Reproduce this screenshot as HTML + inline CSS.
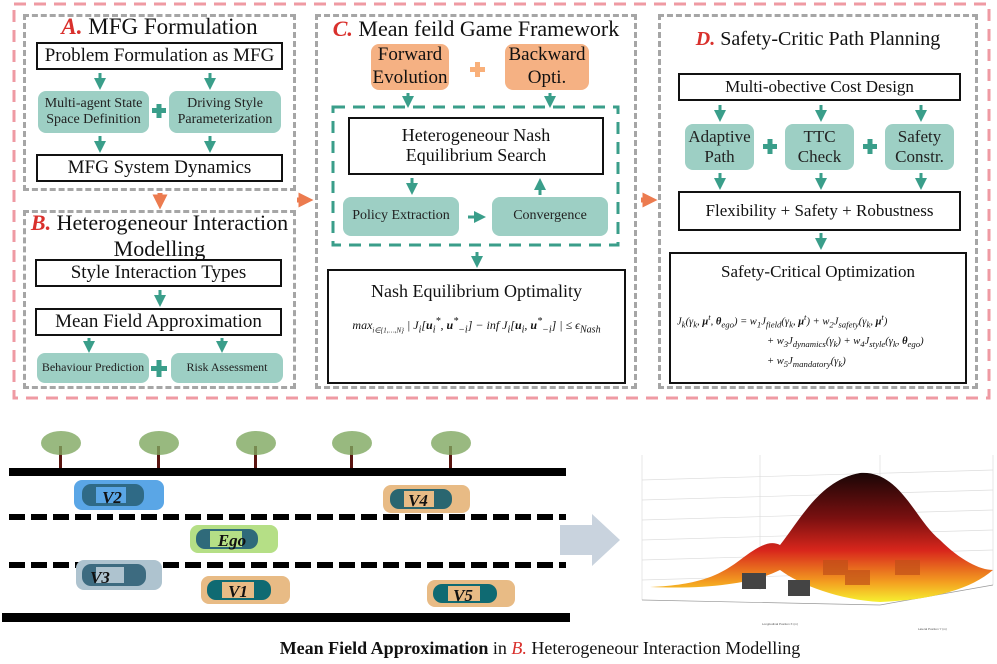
<!DOCTYPE html>
<html><head><meta charset="utf-8"><style>
*{margin:0;padding:0;box-sizing:border-box}
body{width:997px;height:664px;background:#fff;position:relative;overflow:hidden;font-family:"Liberation Serif",serif;color:#111}
.a{position:absolute}
.bx{position:absolute;border:2.5px solid #111;background:#fff;display:flex;align-items:center;justify-content:center;text-align:center;line-height:1.1}
.tl{position:absolute;background:#9dcfc4;border-radius:8px;display:flex;align-items:center;justify-content:center;text-align:center;line-height:1.15;color:#222}
.or{position:absolute;background:#f5b183;border-radius:8px;display:flex;align-items:center;justify-content:center;text-align:center;line-height:1.2;font-size:19px}
.dg{position:absolute;border:3px dashed #a6a6a6}
.r{color:#d9302c;font-style:italic;font-weight:bold}
.t{position:absolute;white-space:nowrap;text-align:center}
</style></head><body>
<svg class="a" style="left:0;top:0" width="997" height="664">
<defs>
<marker id="tg" markerWidth="4" markerHeight="4" refX="2" refY="2" orient="auto" markerUnits="strokeWidth"><path d="M0,0L4,2L0,4Z" fill="#3a9e8a"/></marker>
<marker id="og" markerWidth="3" markerHeight="3" refX="1.5" refY="1.5" orient="auto" markerUnits="strokeWidth"><path d="M0,0L3,1.5L0,3Z" fill="#ec7b4f"/></marker>
<linearGradient id="sg" x1="0" y1="0" x2="0" y2="1"><stop offset="0" stop-color="#1a0606"/><stop offset="0.35" stop-color="#7a1010"/><stop offset="0.6" stop-color="#d8261c"/><stop offset="0.85" stop-color="#f4a020"/><stop offset="1" stop-color="#f6f030"/></linearGradient>
</defs>
<rect x="14" y="4" width="975" height="394" fill="none" stroke="#ef9aa3" stroke-width="3" stroke-dasharray="12 8"/>
<rect x="333" y="107" width="285" height="138" fill="none" stroke="#3a9e8a" stroke-width="3" stroke-dasharray="12 8"/>
<g stroke="#3a9e8a" stroke-width="3" marker-end="url(#tg)">
<line x1="100" y1="73" x2="100" y2="84"/><line x1="210" y1="73" x2="210" y2="84"/>
<line x1="100" y1="136" x2="100" y2="147"/><line x1="210" y1="136" x2="210" y2="147"/>
<line x1="160" y1="290" x2="160" y2="301"/>
<line x1="89" y1="338" x2="89" y2="347"/><line x1="222" y1="338" x2="222" y2="347"/>
<line x1="408" y1="93" x2="408" y2="102"/><line x1="550" y1="93" x2="550" y2="102"/>
<line x1="412" y1="178" x2="412" y2="189"/><line x1="540" y1="195" x2="540" y2="184"/>
<line x1="468" y1="217" x2="480" y2="217"/>
<line x1="477" y1="252" x2="477" y2="262"/>
<line x1="720" y1="105" x2="720" y2="116"/><line x1="821" y1="105" x2="821" y2="116"/><line x1="921" y1="105" x2="921" y2="116"/>
<line x1="720" y1="173" x2="720" y2="184"/><line x1="821" y1="173" x2="821" y2="184"/><line x1="921" y1="173" x2="921" y2="184"/>
<line x1="821" y1="233" x2="821" y2="244"/>
</g>
<g stroke="#ec7b4f" stroke-width="5" marker-end="url(#og)">
<line x1="160" y1="193" x2="160" y2="202"/><line x1="297" y1="200" x2="306" y2="200"/><line x1="641" y1="200" x2="650" y2="200"/>
</g>
<g fill="#3a9e8a">
<rect x="152" y="108" width="14" height="5"/><rect x="156.5" y="104" width="5" height="14"/>
<rect x="151" y="366" width="16" height="5"/><rect x="156.5" y="360" width="5" height="17"/>
<rect x="763" y="144" width="14" height="5"/><rect x="767.5" y="139" width="5" height="15"/>
<rect x="863" y="144" width="14" height="5"/><rect x="867.5" y="139" width="5" height="15"/>
</g>
<g fill="#f9b07a"><rect x="470" y="67" width="15" height="5"/><rect x="475" y="62" width="5" height="15"/></g>
<!-- road -->
<rect x="9" y="468" width="557" height="8" fill="#000"/>
<rect x="2" y="613" width="568" height="9" fill="#000"/>
<line x1="9" y1="517" x2="566" y2="517" stroke="#000" stroke-width="6" stroke-dasharray="16 6"/>
<line x1="9" y1="565" x2="566" y2="565" stroke="#000" stroke-width="6" stroke-dasharray="16 6"/>
<g fill="#5a1410">
<rect x="59" y="446" width="3" height="22"/><rect x="157" y="446" width="3" height="22"/><rect x="254" y="446" width="3" height="22"/><rect x="350" y="446" width="3" height="22"/><rect x="449" y="446" width="3" height="22"/>
</g>
<g fill="#7fa860" opacity="0.8">
<ellipse cx="61" cy="443" rx="20" ry="12"/><ellipse cx="159" cy="443" rx="20" ry="12"/><ellipse cx="256" cy="443" rx="20" ry="12"/><ellipse cx="352" cy="443" rx="20" ry="12"/><ellipse cx="451" cy="443" rx="20" ry="12"/>
</g>
<!-- cars -->
<g>
<rect x="74" y="480" width="90" height="30" rx="8" fill="#5aa6e6"/><rect x="82" y="484" width="62" height="22" rx="9" fill="#2f6a86"/><rect x="96" y="487" width="30" height="16" fill="#5aa6e6"/>
<rect x="383" y="485" width="87" height="28" rx="8" fill="#e8bb85"/><rect x="390" y="489" width="62" height="20" rx="9" fill="#2a6670"/><rect x="404" y="491" width="30" height="16" fill="#e8bb85"/>
<rect x="190" y="525" width="88" height="28" rx="8" fill="#b5df86"/><rect x="196" y="529" width="62" height="20" rx="9" fill="#2f6a7a"/><rect x="210" y="531" width="32" height="16" fill="#b5df86"/>
<rect x="76" y="560" width="86" height="30" rx="8" fill="#aec3cf"/><rect x="82" y="564" width="64" height="22" rx="9" fill="#3d6b80"/><rect x="96" y="567" width="28" height="16" fill="#aec3cf"/>
<rect x="201" y="576" width="89" height="28" rx="8" fill="#e8bb85"/><rect x="207" y="580" width="64" height="20" rx="9" fill="#0f6a72"/><rect x="222" y="582" width="32" height="16" fill="#e8bb85"/>
<rect x="427" y="580" width="88" height="27" rx="8" fill="#e8bb85"/><rect x="433" y="584" width="64" height="19" rx="9" fill="#0f6a72"/><rect x="448" y="586" width="32" height="15" fill="#e8bb85"/>
</g>
<g font-family="Liberation Serif" font-style="italic" font-weight="bold" font-size="17" fill="#111" text-anchor="middle">
<text x="112" y="503">V2</text><text x="418" y="506">V4</text><text x="232" y="546">Ego</text><text x="100" y="583">V3</text><text x="238" y="597">V1</text><text x="463" y="601">V5</text>
</g>
<!-- big arrow -->
<path d="M560,525 L592,525 L592,514 L620,540 L592,566 L592,555 L560,555 Z" fill="#c9d3de"/>
<!-- plot -->
<g stroke="#ddd" stroke-width="0.7" fill="none">
<line x1="642" y1="455" x2="642" y2="600"/><line x1="760" y1="455" x2="760" y2="590"/><line x1="880" y1="455" x2="880" y2="600"/><line x1="993" y1="455" x2="993" y2="585"/>
<line x1="642" y1="480" x2="993" y2="470"/><line x1="642" y1="500" x2="993" y2="490"/><line x1="642" y1="520" x2="993" y2="510"/><line x1="642" y1="540" x2="993" y2="530"/><line x1="642" y1="560" x2="993" y2="550"/><line x1="642" y1="580" x2="993" y2="570"/>
</g>
<line x1="642" y1="600" x2="880" y2="605" stroke="#999" stroke-width="0.7"/>
<line x1="880" y1="605" x2="993" y2="585" stroke="#999" stroke-width="0.7"/>
<path d="M650,587 C700,585 720,575 740,560 C760,545 770,540 780,545 C800,520 820,480 860,473 C900,470 915,520 940,540 C960,560 980,570 993,570 C970,590 930,600 880,602 C840,600 800,585 780,570 C760,580 720,590 650,587 Z" fill="url(#sg)"/>
<rect x="742" y="573" width="24" height="16" fill="#444"/><rect x="788" y="580" width="22" height="16" fill="#444"/>
<g fill="#c05018" opacity="0.7"><rect x="823" y="560" width="25" height="15"/><rect x="845" y="570" width="25" height="15"/><rect x="895" y="560" width="25" height="15"/></g>
<g font-family="Liberation Sans" font-size="3" fill="#555"><text x="762" y="625">Longitudinal Position X (m)</text><text x="918" y="630">Lateral Position Y (m)</text></g>
</svg>

<div class="dg" style="left:23px;top:14px;width:273px;height:177px"></div>
<div class="dg" style="left:23px;top:210px;width:273px;height:179px"></div>
<div class="dg" style="left:315px;top:14px;width:322px;height:375px"></div>
<div class="dg" style="left:658px;top:14px;width:320px;height:375px"></div>

<div class="t" style="left:23px;width:273px;top:14px;font-size:23px"><span class="r">A.</span> MFG Formulation</div>
<div class="bx" style="left:36px;top:42px;width:247px;height:28px;font-size:19px">Problem Formulation as MFG</div>
<div class="tl" style="left:38px;top:91px;width:111px;height:42px;font-size:14px">Multi-agent State Space Definition</div>
<div class="tl" style="left:169px;top:91px;width:112px;height:42px;font-size:14px">Driving Style Parameterization</div>
<div class="bx" style="left:36px;top:154px;width:247px;height:28px;font-size:19px">MFG System Dynamics</div>

<div class="t" style="left:23px;width:273px;top:210px;font-size:22px;line-height:26px"><span class="r">B.</span> Heterogeneour Interaction<br>Modelling</div>
<div class="bx" style="left:35px;top:259px;width:247px;height:28px;font-size:19px">Style Interaction Types</div>
<div class="bx" style="left:35px;top:308px;width:247px;height:28px;font-size:19px">Mean Field Approximation</div>
<div class="tl" style="left:37px;top:353px;width:112px;height:30px;font-size:12px">Behaviour Prediction</div>
<div class="tl" style="left:171px;top:353px;width:112px;height:30px;font-size:12px">Risk Assessment</div>

<div class="t" style="left:315px;width:322px;top:16px;font-size:22px"><span class="r">C.</span> Mean feild Game Framework</div>
<div class="or" style="left:371px;top:44px;width:78px;height:46px">Forward Evolution</div>
<div class="or" style="left:505px;top:44px;width:84px;height:46px">Backward Opti.</div>
<div class="bx" style="left:348px;top:117px;width:256px;height:58px;font-size:18px">Heterogeneour Nash<br>Equilibrium Search</div>
<div class="tl" style="left:343px;top:197px;width:116px;height:39px;font-size:14px">Policy Extraction</div>
<div class="tl" style="left:492px;top:197px;width:116px;height:39px;font-size:14px">Convergence</div>
<div class="bx" style="left:327px;top:269px;width:299px;height:115px;display:block">
<div style="font-size:18px;margin-top:11px">Nash Equilibrium Optimality</div>
<div style="font-size:12px;margin-top:14px;font-style:italic;white-space:nowrap">max<sub style="font-size:7px">i∈{1,…,N}</sub> | J<sub>i</sub>[<b>u</b><sub>i</sub><sup>*</sup>, <b>u</b><sup>*</sup><sub>−i</sub>] − inf J<sub>i</sub>[<b>u</b><sub>i</sub>, <b>u</b><sup>*</sup><sub>−i</sub>] | ≤ ϵ<sub>Nash</sub></div>
</div>

<div class="t" style="left:658px;width:320px;top:28px;font-size:20px"><span class="r">D.</span> Safety-Critic Path Planning</div>
<div class="bx" style="left:678px;top:73px;width:283px;height:28px;font-size:17px">Multi-obective Cost Design</div>
<div class="tl" style="left:685px;top:124px;width:69px;height:46px;font-size:17px">Adaptive Path</div>
<div class="tl" style="left:785px;top:124px;width:69px;height:46px;font-size:17px">TTC Check</div>
<div class="tl" style="left:885px;top:124px;width:69px;height:46px;font-size:17px">Safety Constr.</div>
<div class="bx" style="left:678px;top:191px;width:283px;height:40px;font-size:17px">Flexibility + Safety + Robustness</div>
<div class="bx" style="left:669px;top:252px;width:298px;height:132px;display:block">
<div style="font-size:17px;margin-top:9px">Safety-Critical Optimization</div>
<div style="font-size:10.5px;font-style:italic;text-align:left;margin:26px 0 0 6px;line-height:18px;white-space:nowrap">J<sub>k</sub>(γ<sub>k</sub>, <b>μ</b><sup>t</sup>, <b>θ</b><sub>ego</sub>) = w<sub>1</sub>J<sub>field</sub>(γ<sub>k</sub>, <b>μ</b><sup>t</sup>) + w<sub>2</sub>J<sub>safety</sub>(γ<sub>k</sub>, <b>μ</b><sup>t</sup>)<br><span style="padding-left:90px">+ w<sub>3</sub>J<sub>dynamics</sub>(γ<sub>k</sub>) + w<sub>4</sub>J<sub>style</sub>(γ<sub>k</sub>, <b>θ</b><sub>ego</sub>)</span><br><span style="padding-left:90px">+ w<sub>5</sub>J<sub>mandatory</sub>(γ<sub>k</sub>)</span></div>
</div>

<div class="t" style="left:0;width:1080px;top:638px;font-size:18px"><b>Mean Field Approximation</b> in <span class="r" style="font-weight:normal">B.</span> Heterogeneour Interaction Modelling</div>
</body></html>
